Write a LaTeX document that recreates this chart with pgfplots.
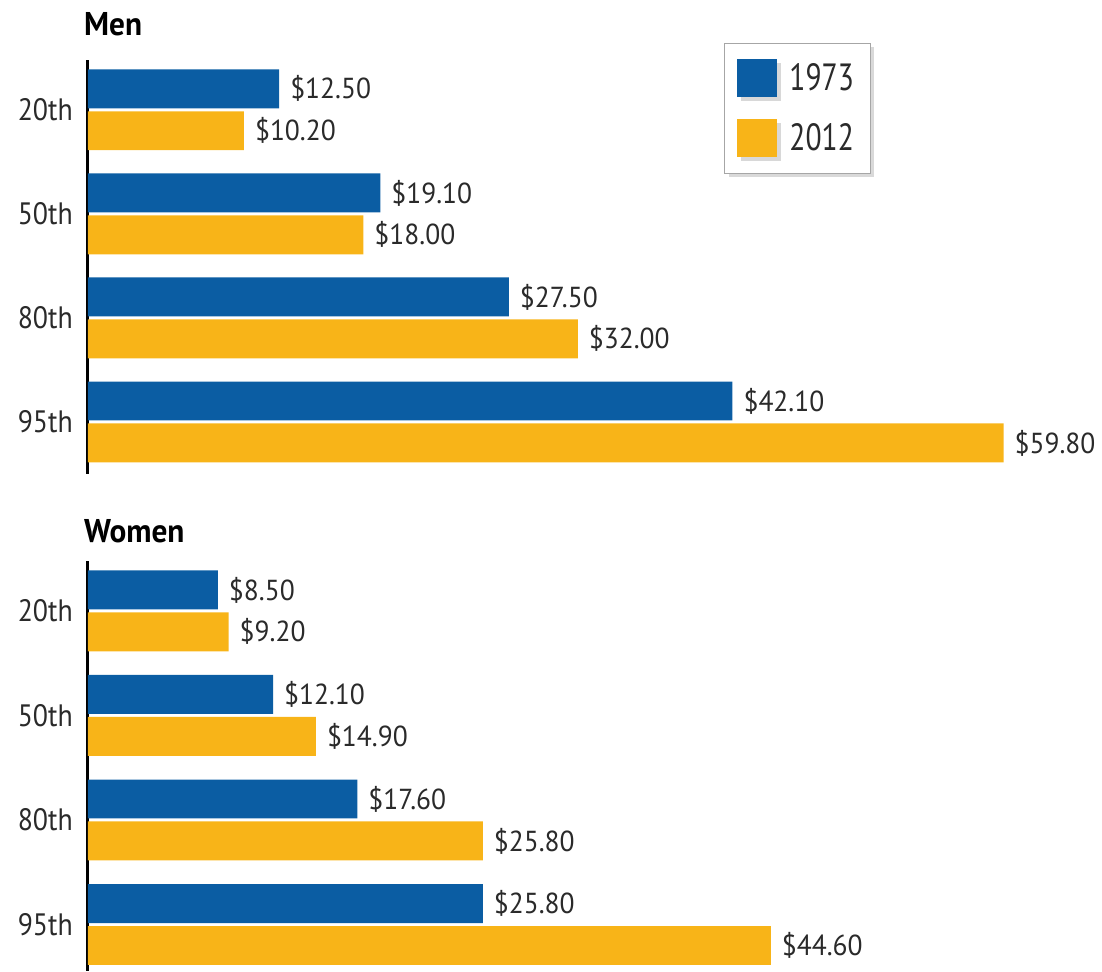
\documentclass[border=0pt]{standalone}
\usepackage{fontspec}
\setmainfont{PT Sans}[FakeStretch=0.9]
\newfontfamily\titlefont{PT Sans}[FakeStretch=0.95]
\newfontfamily\legendfont{PT Sans}[FakeStretch=0.78]
\usepackage{pgfplots}
\pgfplotsset{compat=1.18}
\usetikzlibrary{shadows}
\definecolor{blue73}{HTML}{0B5DA3}
\definecolor{gold12}{HTML}{F8B418}
\definecolor{labelgray}{HTML}{2A2A2A}

% 1 px of the reference = 0.5pt
\pgfplotsset{
  wagepanel/.style={
    x=7.675pt,
    xmin=0, xmax=65.8,
    xbar, bar width=19.5pt,
    axis x line=none, axis y line*=left,
    y axis line style={-, line width=1.4pt, black},
    ytick={0,1,2,3}, yticklabels={95th,80th,50th,20th},
    major tick length=0pt,
    yticklabel style={font=\fontsize{15.5}{16}\selectfont, text=labelgray, xshift=-4pt},
    point meta=x,
    nodes near coords={\$\pgfmathprintnumber[fixed,fixed zerofill,precision=2]{\pgfplotspointmeta}},
    nodes near coords style={font=\titlefont\fontsize{14.5}{15}\selectfont, text=labelgray, xshift=2pt},
    /pgf/number format/assume math mode=true,
    title style={at={(rel axis cs:0,1)}, anchor=south west, inner sep=0pt,
      font=\titlefont\bfseries\fontsize{16.5}{17}\selectfont, xshift=-2pt},
    clip=false,
  },
  s1973/.style={fill=blue73, draw=none, bar shift=10.5pt},
  s2012/.style={fill=gold12, draw=none, bar shift=-10.5pt},
}

\begin{document}
\begin{tikzpicture}
\path (0,0) rectangle (551pt,486pt);

\begin{axis}[wagepanel, at={(44pt,456pt)}, anchor=north west,
  y=52.15pt, ymin=-0.5, ymax=3.48,
  title={Men}, title style={yshift=6pt},
  legend style={at={(axis cs:51.1,3.643)}, anchor=north east,
    draw=gray!70, fill=white,
    drop shadow={opacity=0.3, shadow xshift=2pt, shadow yshift=-2pt},
    font=\legendfont\fontsize{19}{21}\selectfont, text=labelgray,
    inner xsep=6pt, inner ysep=8pt, row sep=11pt,
    /tikz/every odd column/.append style={column sep=4.5pt}},
  legend cell align=left,
  legend image code/.code={\fill[#1] (0pt,-9.5pt) rectangle (20pt,9.5pt);},
]
\addplot[s1973] coordinates {(12.50,3) (19.10,2) (27.50,1) (42.10,0)};
\addplot[s2012] coordinates {(10.20,3) (18.00,2) (32.00,1) (59.80,0)};
\legend{1973,2012}
\end{axis}

\begin{axis}[wagepanel, at={(44pt,205pt)}, anchor=north west,
  y=52.4pt, ymin=-0.44, ymax=3.48,
  title={Women}, title style={yshift=2.5pt},
]
\addplot[s1973] coordinates {(8.50,3) (12.10,2) (17.60,1) (25.80,0)};
\addplot[s2012] coordinates {(9.20,3) (14.90,2) (25.80,1) (44.60,0)};
\end{axis}
\end{tikzpicture}
\end{document}
